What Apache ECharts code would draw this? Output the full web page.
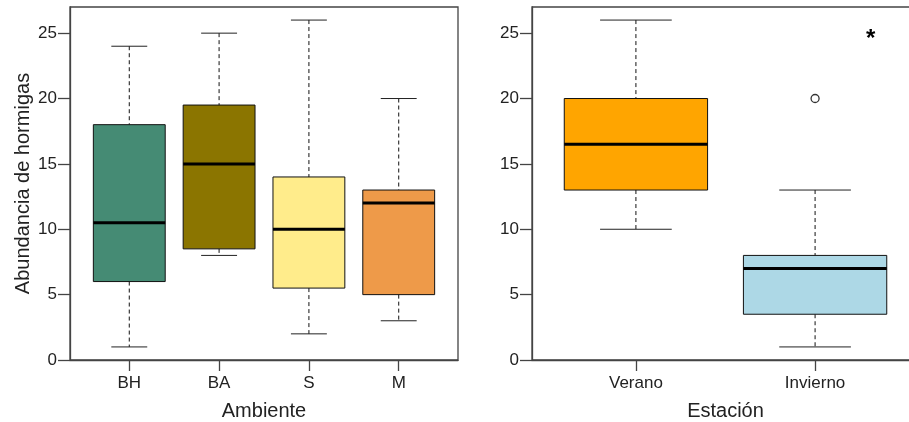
<!DOCTYPE html>
<html>
<head>
<meta charset="utf-8">
<script src="https://cdn.jsdelivr.net/npm/echarts@6/dist/echarts.min.js"></script>
<style>
  html, body { margin: 0; padding: 0; background: #fff; }
  #chart { width: 909px; height: 422px; }
</style>
</head>
<body>
<div id="chart"></div>
<script>
// Ant abundance by environment (left) and by season (right)
const ambientes = ['BH', 'BA', 'S', 'M'];
// [min, Q1, median, Q3, max]
const ambienteStats = [
  [1, 6, 10.5, 18, 24],
  [8, 8.5, 15, 19.5, 25],
  [2, 5.5, 10, 14, 26],
  [3, 5, 12, 13, 20]
];
const ambienteColors = ['#458B74', '#8B7500', '#FFEC8B', '#EE9A49'];

const estaciones = ['Verano', 'Invierno'];
const estacionStats = [
  [10, 13, 16.5, 20, 26],
  [1, 3.5, 7, 8, 13]
];
const estacionColors = ['#FFA500', '#ADD8E6'];
// outlier points: [group position, value]
const estacionOutliers = [[2, 20]];
// significance mark
const marca = [[2.31, 25]];

const yTicks = [0, 5, 10, 15, 20, 25];

const chart = echarts.init(document.getElementById('chart'));

function boxData(stats) {
  return stats.map((s, i) => [i + 1].concat(s));
}

function renderBox(colors) {
  return function (params, api) {
    const x = api.value(0);
    const low = api.coord([x, api.value(1)]);
    const q1 = api.coord([x, api.value(2)]);
    const med = api.coord([x, api.value(3)]);
    const q3 = api.coord([x, api.value(4)]);
    const high = api.coord([x, api.value(5)]);
    const boxW = api.size([0.8, 0])[0];
    const capW = api.size([0.4, 0])[0];
    const cx = low[0];
    const dash = { stroke: '#111', lineWidth: 1, lineDash: [4, 3] };
    const solid = { stroke: '#222', lineWidth: 1 };
    return {
      type: 'group',
      children: [
        { type: 'line', shape: { x1: cx, y1: high[1], x2: cx, y2: q3[1] }, style: dash },
        { type: 'line', shape: { x1: cx, y1: q1[1], x2: cx, y2: low[1] }, style: dash },
        { type: 'line', shape: { x1: cx - capW / 2, y1: high[1], x2: cx + capW / 2, y2: high[1] }, style: solid },
        { type: 'line', shape: { x1: cx - capW / 2, y1: low[1], x2: cx + capW / 2, y2: low[1] }, style: solid },
        { type: 'rect', shape: { x: cx - boxW / 2, y: q3[1], width: boxW, height: q1[1] - q3[1] },
          style: { fill: colors[params.dataIndex], stroke: '#111', lineWidth: 1 } },
        { type: 'line', shape: { x1: cx - boxW / 2, y1: med[1], x2: cx + boxW / 2, y2: med[1] },
          style: { stroke: '#000', lineWidth: 3 } }
      ]
    };
  };
}

const textColor = '#222';
const axisColor = '#444';
const font = 'Liberation Sans, Arial, sans-serif';

function xAxisFor(gridIndex, names, name) {
  const n = names.length;
  return {
    type: 'value', gridIndex: gridIndex,
    min: 0.5 - n * 0.04, max: n + 0.5 + n * 0.04,
    splitLine: { show: false },
    axisLine: { show: true, lineStyle: { color: axisColor, width: 1.3 } },
    axisTick: { show: true, length: 11, customValues: names.map((_, i) => i + 1), lineStyle: { color: axisColor, width: 1.3 } },
    axisLabel: {
      customValues: names.map((_, i) => i + 1),
      formatter: v => names[Math.round(v) - 1] || '',
      color: textColor, fontSize: 17, fontFamily: font, margin: 15
    },
    name: name, nameLocation: 'middle', nameGap: 41,
    nameTextStyle: { color: textColor, fontSize: 20, fontFamily: font }
  };
}

function yAxisFor(gridIndex, name) {
  return {
    type: 'value', gridIndex: gridIndex, min: 0, max: 27,
    splitLine: { show: false },
    axisLine: { show: true, lineStyle: { color: axisColor, width: 1.3 } },
    axisTick: { show: true, length: 12, customValues: yTicks, lineStyle: { color: axisColor, width: 1.3 } },
    axisLabel: { customValues: yTicks, color: textColor, fontSize: 17, fontFamily: font, margin: 13 },
    name: name, nameLocation: 'middle', nameGap: 37,
    nameTextStyle: { color: textColor, fontSize: 20, fontFamily: font }
  };
}

chart.setOption({
  animation: false,
  backgroundColor: '#fff',
  grid: [
    { left: 70, top: 7, width: 388, height: 353, show: true, borderColor: axisColor, borderWidth: 1.3,
      outerBoundsMode: 'none' },
    { left: 532, top: 7, width: 387, height: 353, show: true, borderColor: axisColor, borderWidth: 1.3,
      outerBoundsMode: 'none' }
  ],
  xAxis: [
    xAxisFor(0, ambientes, 'Ambiente'),
    xAxisFor(1, estaciones, 'Estación')
  ],
  yAxis: [
    yAxisFor(0, 'Abundancia de hormigas'),
    yAxisFor(1, '')
  ],
  series: [
    {
      type: 'custom', xAxisIndex: 0, yAxisIndex: 0,
      renderItem: renderBox(ambienteColors),
      data: boxData(ambienteStats),
      encode: { x: 0, y: [1, 2, 3, 4, 5] }
    },
    {
      type: 'custom', xAxisIndex: 1, yAxisIndex: 1,
      renderItem: renderBox(estacionColors),
      data: boxData(estacionStats),
      encode: { x: 0, y: [1, 2, 3, 4, 5] }
    },
    {
      type: 'scatter', xAxisIndex: 1, yAxisIndex: 1,
      symbol: 'circle', symbolSize: 8,
      itemStyle: { color: '#fff', borderColor: '#000', borderWidth: 1.3 },
      data: estacionOutliers
    },
    {
      type: 'custom', xAxisIndex: 1, yAxisIndex: 1,
      renderItem: function (params, api) {
        const p = api.coord([api.value(0), api.value(1)]);
        return {
          type: 'text',
          style: { x: p[0], y: p[1] + 6, text: '*', fill: '#000', fontSize: 24, fontWeight: 'bold',
                   fontFamily: font, align: 'center', verticalAlign: 'middle' }
        };
      },
      data: marca
    }
  ]
});
</script>
</body>
</html>
